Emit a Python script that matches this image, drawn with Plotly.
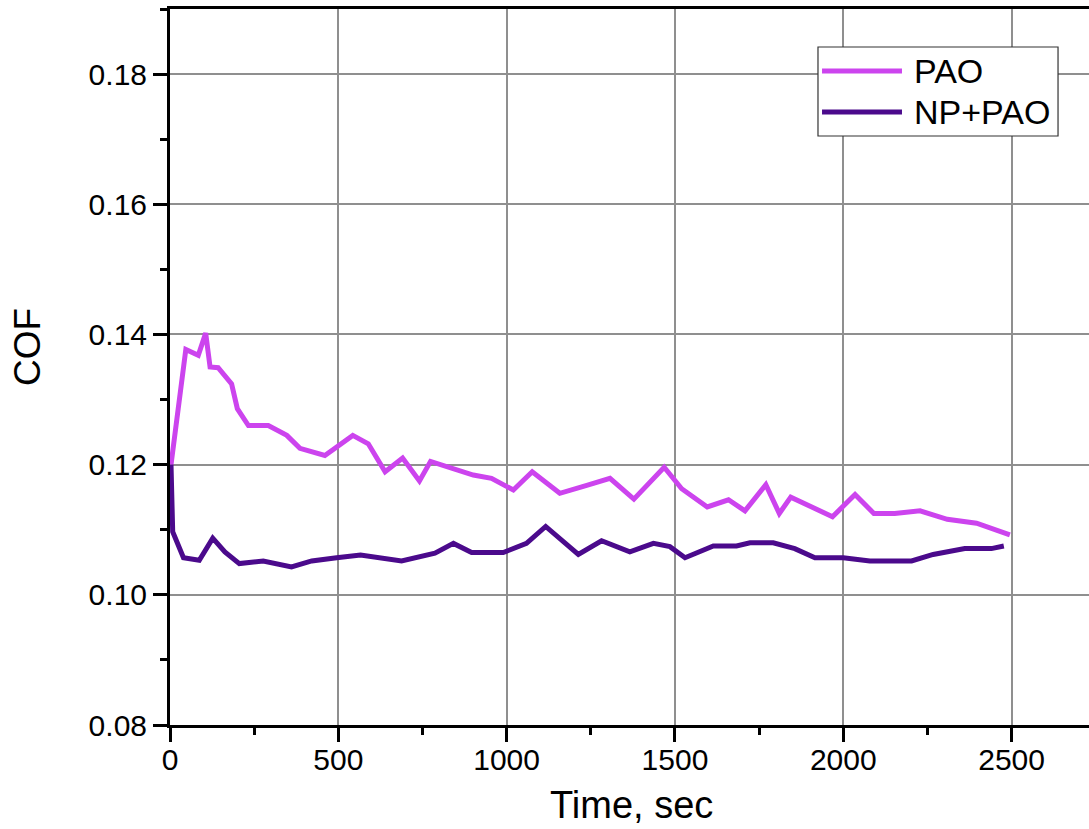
import plotly.graph_objects as go

# ---- data ----
pao_time = [3, 47, 84, 106, 119, 143, 183, 200, 233, 292, 347, 386, 460, 543, 589, 639, 691,
            741, 774, 837, 901, 955, 1020, 1076, 1158, 1238, 1307, 1378, 1468, 1520, 1596,
            1659, 1708, 1770, 1810, 1844, 1968, 2035, 2091, 2153, 2228, 2309, 2396, 2495]
pao_cof = [0.1200, 0.1377, 0.1368, 0.1402, 0.1350, 0.1349, 0.1324, 0.1286, 0.1260, 0.1260,
           0.1245, 0.1225, 0.1214, 0.1245, 0.1232, 0.1189, 0.1210, 0.1175, 0.1205, 0.1194,
           0.1184, 0.1179, 0.1161, 0.1189, 0.1156, 0.1168, 0.1179, 0.1147, 0.1196, 0.1163,
           0.1135, 0.1146, 0.1129, 0.1169, 0.1125, 0.1150, 0.1120, 0.1154, 0.1125, 0.1125,
           0.1129, 0.1116, 0.1110, 0.1092]

np_time = [3, 8, 40, 87, 127, 163, 206, 277, 361, 421, 495, 566, 688, 787, 842, 896, 990,
           1059, 1116, 1213, 1282, 1366, 1436, 1485, 1530, 1614, 1683, 1723, 1792, 1856,
           1916, 2000, 2079, 2203, 2267, 2361, 2440, 2477]
np_cof = [0.1200, 0.1097, 0.1057, 0.1053, 0.1087, 0.1066, 0.1048, 0.1052, 0.1043, 0.1052,
          0.1057, 0.1061, 0.1052, 0.1064, 0.1079, 0.1065, 0.1065, 0.1079, 0.1105, 0.1062,
          0.1083, 0.1066, 0.1079, 0.1074, 0.1057, 0.1075, 0.1075, 0.1080, 0.1080, 0.1071,
          0.1057, 0.1057, 0.1052, 0.1052, 0.1062, 0.1071, 0.1071, 0.1075]

series_names = ["PAO", "NP+PAO"]
series_colors = ["#CC44EE", "#4B0A8C"]

x_tickvals = [0, 500, 1000, 1500, 2000, 2500]
y_tickvals = [0.08, 0.10, 0.12, 0.14, 0.16, 0.18]
y_ticktext = ["0.08", "0.10", "0.12", "0.14", "0.16", "0.18"]

FONT = "Arial, Liberation Sans, sans-serif"

fig = go.Figure()
fig.add_trace(go.Scatter(x=pao_time, y=pao_cof, mode="lines", name=series_names[0],
                         line=dict(color=series_colors[0], width=5), showlegend=False))
fig.add_trace(go.Scatter(x=np_time, y=np_cof, mode="lines", name=series_names[1],
                         line=dict(color=series_colors[1], width=5), showlegend=False))

fig.update_layout(
    width=1089, height=829,
    margin=dict(l=170, r=0, t=9, b=104),
    paper_bgcolor="white", plot_bgcolor="white",
    font=dict(family=FONT, color="black"),
)

fig.update_xaxes(
    range=[0, 2730], tickvals=x_tickvals,
    showgrid=True, gridcolor="#8f8f8f", gridwidth=1.5,
    showline=True, linecolor="black", linewidth=3, mirror=True,
    ticks="outside", ticklen=14, tickwidth=3, tickcolor="black",
    tickfont=dict(size=30, family=FONT), ticklabelstandoff=-8,
    minor=dict(dtick=250, tick0=0, ticks="outside", ticklen=7, tickwidth=3,
               tickcolor="black", showgrid=False),
    zeroline=False,
)
fig.update_yaxes(
    range=[0.08, 0.19], tickvals=y_tickvals, ticktext=y_ticktext,
    showgrid=True, gridcolor="#8f8f8f", gridwidth=1.5,
    showline=True, linecolor="black", linewidth=3, mirror=False,
    ticks="outside", ticklen=14, tickwidth=3, tickcolor="black",
    tickfont=dict(size=30, family=FONT),
    minor=dict(dtick=0.01, tick0=0.08, ticks="outside", ticklen=7, tickwidth=3,
               tickcolor="black", showgrid=False),
    zeroline=False,
)

# axis titles
fig.add_annotation(text="Time, sec", xref="paper", yref="paper", x=0.5027, y=-0.1117,
                   xanchor="center", yanchor="middle", showarrow=False,
                   font=dict(size=38, family=FONT, color="black"))
fig.add_annotation(text="COF", xref="paper", yref="paper", x=-0.1545, y=0.528,
                   xanchor="center", yanchor="middle", textangle=-90, showarrow=False,
                   font=dict(size=37, family=FONT, color="black"))

# legend (drawn manually to match the long line samples)
fig.add_shape(type="rect", xref="paper", yref="paper", x0=0.7051, x1=0.9663,
              y0=0.8226, y1=0.9469, fillcolor="white", line=dict(color="#333333", width=1.2),
              layer="above")
leg_y = [0.9134, 0.8561]
for name, col, yy in zip(series_names, series_colors, leg_y):
    fig.add_shape(type="line", xref="paper", yref="paper", x0=0.7095, x1=0.7965,
                  y0=yy, y1=yy, line=dict(color=col, width=5), layer="above")
    fig.add_annotation(text=name, xref="paper", yref="paper", x=0.8074, y=yy,
                       xanchor="left", yanchor="middle", showarrow=False,
                       font=dict(size=34, family=FONT, color="black"))

fig.write_html("out.html")
